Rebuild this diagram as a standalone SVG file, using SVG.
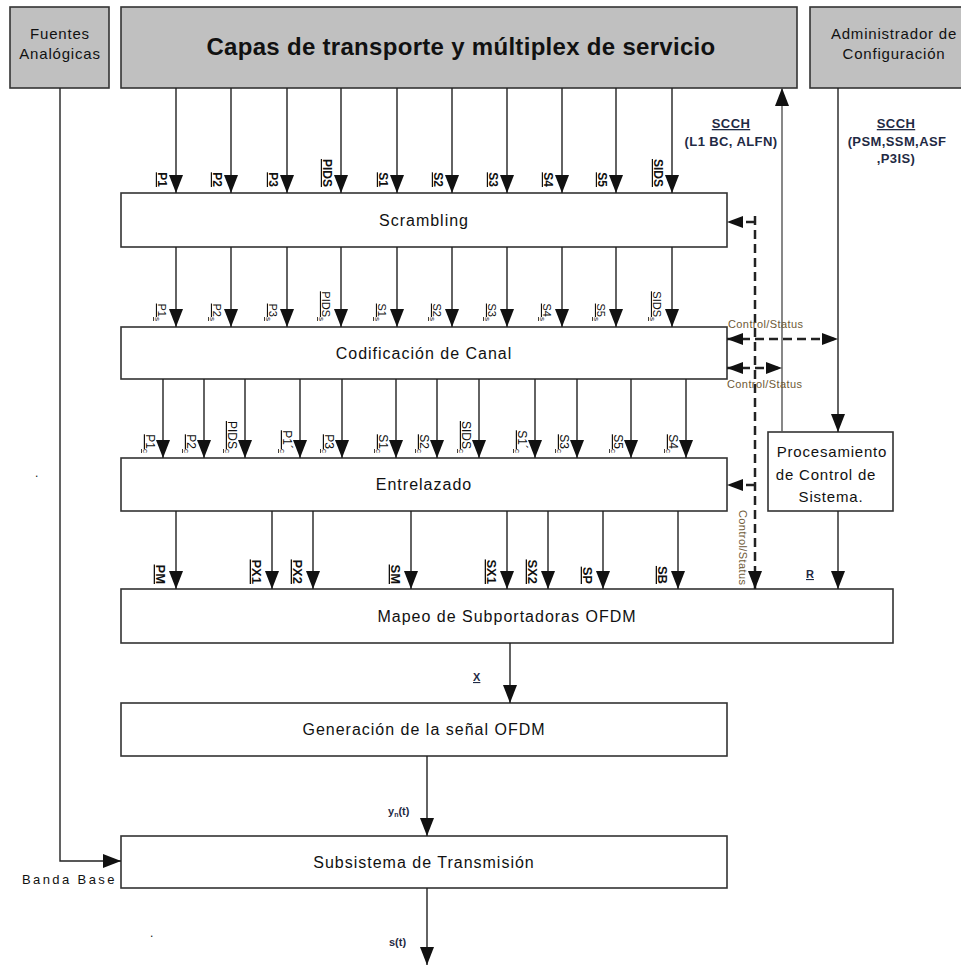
<svg xmlns="http://www.w3.org/2000/svg" width="961" height="967" viewBox="0 0 961 967">
<style>
.bg{fill:#ffffff}
.gbox{fill:#c0c0c0;stroke:#333;stroke-width:1.6}
.box{fill:#ffffff;stroke:#333;stroke-width:1.6}
.t{font-family:"Liberation Sans",Arial,sans-serif;fill:#111}
.bt{font-size:16px;letter-spacing:1px;text-anchor:middle}
.st{font-size:15px;letter-spacing:0.8px;text-anchor:middle}
.title{font-size:24px;font-weight:bold;text-anchor:middle;letter-spacing:0.3px}
.ln{stroke:#222;stroke-width:1.4;fill:none}
.dash{stroke:#222;stroke-width:2.5;fill:none;stroke-dasharray:9 5}
.l1{font-size:12px;font-weight:bold;text-decoration:underline;text-anchor:end}
.l2{font-size:11px;text-decoration:underline;text-anchor:end}
.l3{font-size:12px;text-decoration:underline;text-anchor:end}
.l4{font-size:13px;font-weight:bold;text-decoration:underline;text-anchor:end}
.cs{font-size:11px;fill:#6e5a36;letter-spacing:0.4px}
.scch{font-size:13px;font-weight:bold;fill:#1f2a44;text-anchor:middle;letter-spacing:0.4px}
.sm{font-size:11px;font-weight:bold;fill:#1f2a44}
</style>
<defs>
<marker id="ah" markerUnits="userSpaceOnUse" markerWidth="18" markerHeight="14" refX="18" refY="7" orient="auto">
<path d="M0,0 L18,7 L0,14 z" fill="#111"/>
</marker>
<marker id="ahs" markerUnits="userSpaceOnUse" markerWidth="16" markerHeight="12" refX="16" refY="6" orient="auto-start-reverse">
<path d="M0,0 L16,6 L0,12 z" fill="#111"/>
</marker>
</defs>
<rect class="bg" x="0" y="0" width="961" height="967"/>

<g id="fuentes">
<rect class="gbox" x="10" y="7" width="99" height="81"/>
<text class="t st" x="60" y="39" style="font-size:15px">Fuentes</text>
<text class="t st" x="60" y="59" style="font-size:15px">Analógicas</text>
</g>
<g id="capas">
<rect class="gbox" x="121" y="7" width="676" height="81"/>
<text class="t title" x="461" y="55">Capas de transporte y múltiplex de servicio</text>
</g>
<g id="admin">
<rect class="gbox" x="810" y="7" width="165" height="81"/>
<text class="t st" x="894" y="39">Administrador de</text>
<text class="t st" x="894" y="59">Configuración</text>
</g>
<g id="scrambling">
<rect class="box" x="121" y="193" width="606" height="54"/>
<text class="t bt" x="424" y="226">Scrambling</text>
</g>
<g id="codificacion">
<rect class="box" x="121" y="327" width="606" height="52"/>
<text class="t bt" x="424" y="359">Codificación de Canal</text>
</g>
<g id="entrelazado">
<rect class="box" x="121" y="458" width="606" height="53"/>
<text class="t bt" x="424" y="490">Entrelazado</text>
</g>
<g id="procesamiento">
<rect class="box" x="768" y="432" width="125" height="79"/>
<text class="t st" x="832" y="457">Procesamiento</text>
<text class="t st" x="826" y="480">de Control de</text>
<text class="t st" x="831" y="502">Sistema.</text>
</g>
<g id="mapeo">
<rect class="box" x="121" y="589" width="772" height="54"/>
<text class="t bt" x="507" y="622">Mapeo de Subportadoras OFDM</text>
</g>
<g id="generacion">
<rect class="box" x="121" y="703" width="606" height="53"/>
<text class="t bt" x="424" y="735">Generación de la señal OFDM</text>
</g>
<g id="subsistema">
<rect class="box" x="121" y="836" width="606" height="52"/>
<text class="t bt" x="424" y="868">Subsistema de Transmisión</text>
</g>

<g id="connectors">
<!-- row 1 -->
<path class="ln" marker-end="url(#ah)" d="M176,88V193"/>
<path class="ln" marker-end="url(#ah)" d="M231,88V193"/>
<path class="ln" marker-end="url(#ah)" d="M287,88V193"/>
<path class="ln" marker-end="url(#ah)" d="M341,88V193"/>
<path class="ln" marker-end="url(#ah)" d="M397,88V193"/>
<path class="ln" marker-end="url(#ah)" d="M452,88V193"/>
<path class="ln" marker-end="url(#ah)" d="M507,88V193"/>
<path class="ln" marker-end="url(#ah)" d="M562,88V193"/>
<path class="ln" marker-end="url(#ah)" d="M616,88V193"/>
<path class="ln" marker-end="url(#ah)" d="M672,88V193"/>
<!-- row 2 -->
<path class="ln" marker-end="url(#ah)" d="M176,247V327"/>
<path class="ln" marker-end="url(#ah)" d="M231,247V327"/>
<path class="ln" marker-end="url(#ah)" d="M287,247V327"/>
<path class="ln" marker-end="url(#ah)" d="M341,247V327"/>
<path class="ln" marker-end="url(#ah)" d="M397,247V327"/>
<path class="ln" marker-end="url(#ah)" d="M452,247V327"/>
<path class="ln" marker-end="url(#ah)" d="M507,247V327"/>
<path class="ln" marker-end="url(#ah)" d="M562,247V327"/>
<path class="ln" marker-end="url(#ah)" d="M616,247V327"/>
<path class="ln" marker-end="url(#ah)" d="M672,247V327"/>
<!-- row 3 -->
<path class="ln" marker-end="url(#ah)" d="M163,379V458"/>
<path class="ln" marker-end="url(#ah)" d="M204,379V458"/>
<path class="ln" marker-end="url(#ah)" d="M245,379V458"/>
<path class="ln" marker-end="url(#ah)" d="M300,379V458"/>
<path class="ln" marker-end="url(#ah)" d="M342,379V458"/>
<path class="ln" marker-end="url(#ah)" d="M396,379V458"/>
<path class="ln" marker-end="url(#ah)" d="M437,379V458"/>
<path class="ln" marker-end="url(#ah)" d="M479,379V458"/>
<path class="ln" marker-end="url(#ah)" d="M535,379V458"/>
<path class="ln" marker-end="url(#ah)" d="M577,379V458"/>
<path class="ln" marker-end="url(#ah)" d="M631,379V458"/>
<path class="ln" marker-end="url(#ah)" d="M686,379V458"/>
<!-- row 4 -->
<path class="ln" marker-end="url(#ah)" d="M176,511V589"/>
<path class="ln" marker-end="url(#ah)" d="M272,511V589"/>
<path class="ln" marker-end="url(#ah)" d="M313,511V589"/>
<path class="ln" marker-end="url(#ah)" d="M411,511V589"/>
<path class="ln" marker-end="url(#ah)" d="M507,511V589"/>
<path class="ln" marker-end="url(#ah)" d="M548,511V589"/>
<path class="ln" marker-end="url(#ah)" d="M603,511V589"/>
<path class="ln" marker-end="url(#ah)" d="M678,511V589"/>
<!-- right side -->
<path class="ln" marker-end="url(#ah)" d="M838,88V432"/>
<path class="ln" marker-end="url(#ah)" d="M838,511V589"/>
<path class="ln" style="stroke:#555" marker-end="url(#ah)" d="M782,432V88"/>
<!-- dashed -->
<path class="dash" marker-end="url(#ah)" d="M755,216V589"/>
<path class="dash" marker-end="url(#ahs)" d="M755,222H727"/>
<path class="dash" marker-start="url(#ahs)" marker-end="url(#ahs)" d="M727,339H838"/>
<path class="dash" marker-start="url(#ahs)" marker-end="url(#ahs)" d="M727,368H782"/>
<path class="dash" marker-end="url(#ahs)" d="M755,485H727"/>
<!-- bottom chain -->
<path class="ln" marker-end="url(#ah)" d="M510,643V703"/>
<path class="ln" marker-end="url(#ah)" d="M427,756V836"/>
<path class="ln" marker-end="url(#ah)" d="M427,888V965"/>
<path class="ln" marker-end="url(#ah)" d="M60,88V861H121"/>
</g>

<g id="labels">
<!-- row 1 -->
<text class="t l1" transform="translate(158,187) rotate(90)">P1</text>
<text class="t l1" transform="translate(213,187) rotate(90)">P2</text>
<text class="t l1" transform="translate(269,187) rotate(90)">P3</text>
<text class="t l1" transform="translate(323,187) rotate(90)">PIDS</text>
<text class="t l1" transform="translate(379,187) rotate(90)">S1</text>
<text class="t l1" transform="translate(434,187) rotate(90)">S2</text>
<text class="t l1" transform="translate(489,187) rotate(90)">S3</text>
<text class="t l1" transform="translate(544,187) rotate(90)">S4</text>
<text class="t l1" transform="translate(598,187) rotate(90)">S5</text>
<text class="t l1" transform="translate(654,187) rotate(90)">SIDS</text>
<!-- row 2 -->
<text class="t l2" transform="translate(158,321) rotate(90)">P1<tspan font-size="8" dy="3">s</tspan></text>
<text class="t l2" transform="translate(213,321) rotate(90)">P2<tspan font-size="8" dy="3">s</tspan></text>
<text class="t l2" transform="translate(269,321) rotate(90)">P3<tspan font-size="8" dy="3">s</tspan></text>
<text class="t l2" transform="translate(322,321) rotate(90)">PIDS<tspan font-size="8" dy="3">s</tspan></text>
<text class="t l2" transform="translate(378,321) rotate(90)">S1<tspan font-size="8" dy="3">s</tspan></text>
<text class="t l2" transform="translate(433,321) rotate(90)">S2<tspan font-size="8" dy="3">s</tspan></text>
<text class="t l2" transform="translate(488,321) rotate(90)">S3<tspan font-size="8" dy="3">s</tspan></text>
<text class="t l2" transform="translate(543,321) rotate(90)">S4<tspan font-size="8" dy="3">s</tspan></text>
<text class="t l2" transform="translate(597,321) rotate(90)">S5<tspan font-size="8" dy="3">s</tspan></text>
<text class="t l2" transform="translate(653,321) rotate(90)">SIDS<tspan font-size="8" dy="3">s</tspan></text>
<!-- row 3 -->
<text class="t l3" transform="translate(146,453) rotate(90)">P1<tspan font-size="8" dy="3">c</tspan></text>
<text class="t l3" transform="translate(187,453) rotate(90)">P2<tspan font-size="8" dy="3">c</tspan></text>
<text class="t l3" transform="translate(228,453) rotate(90)">PIDS<tspan font-size="8" dy="3">c</tspan></text>
<text class="t l3" transform="translate(283,453) rotate(90)">P1´<tspan font-size="8" dy="3">c</tspan></text>
<text class="t l3" transform="translate(325,453) rotate(90)">P3<tspan font-size="8" dy="3">c</tspan></text>
<text class="t l3" transform="translate(379,453) rotate(90)">S1<tspan font-size="8" dy="3">c</tspan></text>
<text class="t l3" transform="translate(420,453) rotate(90)">S2<tspan font-size="8" dy="3">c</tspan></text>
<text class="t l3" transform="translate(462,453) rotate(90)">SIDS<tspan font-size="8" dy="3">c</tspan></text>
<text class="t l3" transform="translate(518,453) rotate(90)">S1´<tspan font-size="8" dy="3">c</tspan></text>
<text class="t l3" transform="translate(560,453) rotate(90)">S3<tspan font-size="8" dy="3">c</tspan></text>
<text class="t l3" transform="translate(614,453) rotate(90)">S5<tspan font-size="8" dy="3">c</tspan></text>
<text class="t l3" transform="translate(669,453) rotate(90)">S4<tspan font-size="8" dy="3">c</tspan></text>
<!-- row 4 -->
<text class="t l4" transform="translate(156,584) rotate(90)">PM</text>
<text class="t l4" transform="translate(252,584) rotate(90)">PX1</text>
<text class="t l4" transform="translate(293,584) rotate(90)">PX2</text>
<text class="t l4" transform="translate(391,584) rotate(90)">SM</text>
<text class="t l4" transform="translate(487,584) rotate(90)">SX1</text>
<text class="t l4" transform="translate(528,584) rotate(90)">SX2</text>
<text class="t l4" transform="translate(583,584) rotate(90)">SP</text>
<text class="t l4" transform="translate(658,584) rotate(90)">SB</text>
<!-- control/status -->
<text class="t cs" x="728" y="328">Control/Status</text>
<text class="t cs" x="727" y="388">Control/Status</text>
<text class="t cs" transform="translate(739,510) rotate(90)">Control/Status</text>
<!-- SCCH -->
<text class="t scch" x="731" y="128" text-decoration="underline">SCCH</text>
<text class="t scch" x="731" y="146">(L1 BC, ALFN)</text>
<text class="t scch" x="896" y="128" text-decoration="underline">SCCH</text>
<text class="t scch" x="897" y="146">(PSM,SSM,ASF</text>
<text class="t scch" x="896" y="163">,P3IS)</text>
<text class="t sm" x="806" y="578" font-size="12" text-decoration="underline">R</text>
<text class="t sm" x="473" y="681" font-size="12" text-decoration="underline">X</text>
<text class="t sm" x="388" y="815">y<tspan font-size="7" dy="2">n</tspan><tspan dy="-2">(t)</tspan></text>
<text class="t sm" x="389" y="946">s(t)</text>
<text class="t" x="22" y="884" style="font-size:13px;letter-spacing:2.4px">Banda Base</text>
<text class="t" x="35" y="477" style="font-size:12px">.</text>
<text class="t" x="150" y="937" style="font-size:12px">.</text>
</g>
</svg>
